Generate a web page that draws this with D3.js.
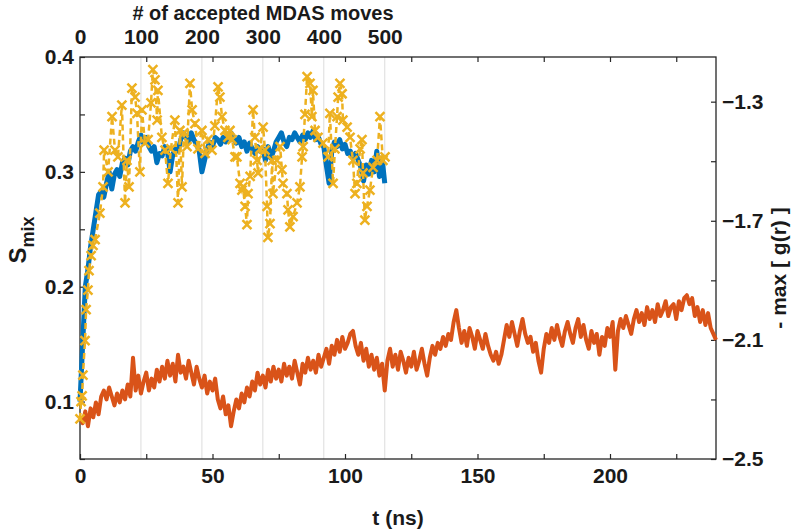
<!DOCTYPE html>
<html><head><meta charset="utf-8">
<script src="https://cdn.jsdelivr.net/npm/d3@7"></script>
<style>body{margin:0;background:#fff}svg{display:block}text{font-family:"Liberation Sans",Arial,sans-serif;font-weight:bold;fill:#1a1a1a}</style>
</head><body><svg id="c" width="793" height="531"></svg>
<script>
// ---- data ----
const tStepNs = 1;
const blueSmix = [0.100,0.150,0.200,0.215,0.235,0.250,0.265,0.280,0.283,0.278,
0.290,0.300,0.285,0.298,0.302,0.296,0.308,0.312,0.306,0.318,
0.322,0.318,0.326,0.332,0.325,0.330,0.322,0.318,0.322,0.308,
0.316,0.314,0.322,0.318,0.300,0.315,0.320,0.318,0.328,0.334,
0.330,0.326,0.334,0.328,0.324,0.318,0.300,0.310,0.320,0.326,
0.322,0.330,0.328,0.324,0.330,0.326,0.332,0.334,0.328,0.325,
0.330,0.322,0.326,0.318,0.325,0.320,0.316,0.322,0.318,0.320,
0.310,0.322,0.312,0.318,0.326,0.330,0.334,0.326,0.322,0.330,
0.328,0.334,0.330,0.326,0.332,0.328,0.334,0.330,0.336,0.328,
0.330,0.324,0.322,0.305,0.290,0.318,0.326,0.322,0.328,0.320,
0.324,0.316,0.318,0.312,0.316,0.310,0.304,0.292,0.306,0.298,
0.310,0.300,0.318,0.296,0.312,0.290];

const yellowT = [0.0,0.4,0.8,1.1,1.9,2.3,3.0,3.4,4.2,4.9,5.7,7.5,8.7,9.1,10.6,12.1,13.2,14.3,15.8,17.0,17.7,18.5,19.6,20.8,21.5,22.6,23.4,24.5,25.7,26.8,27.5,28.3,29.1,29.4,30.9,32.1,33.2,34.3,35.8,37.0,37.7,38.5,39.2,40.4,41.5,42.3,43.4,44.5,46.0,47.2,48.3,49.8,50.9,52.1,52.8,53.6,54.7,55.8,56.6,57.4,58.5,59.2,60.4,61.1,61.5,62.3,63.0,63.4,64.2,65.3,66.0,66.8,67.2,67.9,69.1,69.8,70.6,70.9,71.7,72.5,72.8,74.3,75.5,76.2,76.6,78.1,78.5,79.2,80.4,81.9,83.0,83.8,84.2,84.9,85.7,86.8,87.5,87.9,88.7,89.8,91.7,93.6,94.3,95.5,96.2,97.0,97.4,98.1,98.9,99.2,100.8,101.9,103.0,103.8,104.5,105.7,106.4,106.8,107.5,108.3,109.4,110.6,112.1,113.2,114.3,115.1];
const yellowSmix = [0.085,0.100,0.105,0.123,0.153,0.180,0.197,0.214,0.227,0.236,0.241,0.264,0.287,0.319,0.300,0.348,0.319,0.313,0.358,0.273,0.310,0.287,0.373,0.365,0.351,0.300,0.354,0.325,0.328,0.360,0.389,0.380,0.345,0.371,0.330,0.319,0.290,0.320,0.345,0.273,0.336,0.287,0.334,0.322,0.377,0.354,0.342,0.320,0.336,0.316,0.328,0.319,0.340,0.374,0.365,0.348,0.336,0.330,0.336,0.328,0.313,0.313,0.290,0.284,0.287,0.270,0.254,0.281,0.296,0.354,0.330,0.310,0.299,0.320,0.339,0.319,0.270,0.243,0.255,0.310,0.281,0.310,0.322,0.302,0.290,0.281,0.267,0.252,0.261,0.273,0.287,0.313,0.322,0.350,0.383,0.377,0.348,0.371,0.336,0.330,0.325,0.313,0.351,0.290,0.320,0.348,0.365,0.377,0.368,0.345,0.339,0.330,0.310,0.281,0.290,0.320,0.328,0.299,0.258,0.270,0.284,0.304,0.310,0.348,0.310,0.313];

const orangeGr = [-2.36,-2.38,-2.34,-2.39,-2.33,-2.36,-2.31,-2.35,-2.29,-2.27,
-2.30,-2.26,-2.29,-2.32,-2.28,-2.31,-2.27,-2.30,-2.25,-2.29,
-2.16,-2.27,-2.22,-2.28,-2.24,-2.21,-2.27,-2.23,-2.26,-2.20,
-2.24,-2.19,-2.23,-2.17,-2.22,-2.18,-2.24,-2.15,-2.21,-2.19,
-2.23,-2.17,-2.21,-2.25,-2.19,-2.23,-2.26,-2.22,-2.28,-2.24,
-2.27,-2.23,-2.30,-2.33,-2.29,-2.35,-2.32,-2.39,-2.34,-2.30,
-2.33,-2.28,-2.31,-2.26,-2.29,-2.24,-2.27,-2.21,-2.25,-2.22,
-2.26,-2.20,-2.24,-2.19,-2.23,-2.20,-2.24,-2.18,-2.22,-2.19,
-2.23,-2.17,-2.21,-2.25,-2.18,-2.21,-2.16,-2.20,-2.17,-2.21,
-2.15,-2.19,-2.16,-2.13,-2.18,-2.12,-2.15,-2.10,-2.14,-2.09,
-2.13,-2.11,-2.08,-2.07,-2.12,-2.15,-2.11,-2.17,-2.13,-2.19,
-2.15,-2.20,-2.16,-2.22,-2.18,-2.27,-2.17,-2.13,-2.19,-2.15,
-2.20,-2.14,-2.17,-2.21,-2.16,-2.19,-2.14,-2.20,-2.17,-2.13,
-2.18,-2.22,-2.16,-2.12,-2.15,-2.11,-2.13,-2.09,-2.12,-2.08,
-2.10,-2.04,-2.00,-2.06,-2.11,-2.07,-2.12,-2.06,-2.09,-2.13,
-2.07,-2.10,-2.13,-2.08,-2.12,-2.15,-2.17,-2.14,-2.18,-2.15,
-2.10,-2.05,-2.09,-2.04,-2.08,-2.12,-2.07,-2.03,-2.08,-2.11,
-2.09,-2.14,-2.11,-2.17,-2.21,-2.13,-2.08,-2.11,-2.06,-2.10,
-2.05,-2.09,-2.12,-2.07,-2.04,-2.08,-2.11,-2.06,-2.03,-2.09,
-2.05,-2.10,-2.13,-2.07,-2.11,-2.08,-2.15,-2.09,-2.12,-2.06,
-2.09,-2.04,-2.20,-2.07,-2.03,-2.06,-2.02,-2.05,-2.08,-2.03,
-2.00,-2.04,-2.01,-2.05,-1.99,-2.03,-2.00,-2.04,-1.98,-2.02,
-2.00,-1.97,-2.02,-1.99,-1.98,-2.03,-1.97,-2.00,-1.96,-1.95,
-1.98,-1.96,-2.02,-1.99,-2.04,-2.00,-2.05,-2.01,-2.06,-2.08,
-2.10];

const bottomTicks = [0,25,50,75,100,125,150,175,200,225];
const bottomLabels = [0,50,100,150,200];
const topMoveTicks = [0,100,200,300,400,500];
const leftTicks = [0.05,0.1,0.15,0.2,0.25,0.3,0.35,0.4];
const leftLabels = [0.1,0.2,0.3,0.4];
const rightTicks = [-2.5,-2.3,-2.1,-1.9,-1.7,-1.5,-1.3];
const rightLabels = [-2.5,-2.1,-1.7,-1.3];
const nsPerMove = 0.23;

// ---- layout ----
const L=80,R=716,T=57,B=459;
const svg=d3.select("#c");
const x=d3.scaleLinear().domain([0,240]).range([L,R]);
const xTop=d3.scaleLinear().domain([0,240/nsPerMove]).range([L,R]);
const yL=d3.scaleLinear().domain([0.05,0.4]).range([B,T]);
const yR=d3.scaleLinear().domain([-2.5,-1.15]).range([B,T]);
const ink="#262626";

svg.append("g").selectAll("line").data(topMoveTicks.filter(d=>d>0)).join("line")
 .attr("x1",d=>xTop(d)).attr("x2",d=>xTop(d)).attr("y1",T).attr("y2",B)
 .attr("stroke","#dcdcdc").attr("stroke-width",1);

const fmtL=d=>leftLabels.some(v=>Math.abs(v-d)<1e-9)?d3.format(".1f")(d):"";
const fmtR=d=>rightLabels.some(v=>Math.abs(v-d)<1e-9)?d3.format(".1f")(d):"";
const fmtB=d=>bottomLabels.includes(d)?String(d):"";

function style(g){g.select(".domain").remove();g.selectAll("line").attr("stroke",ink).attr("stroke-width",1.2);g.selectAll("text").style("font-size","21px").attr("fill","#1a1a1a");}

svg.append("g").attr("transform",`translate(0,${B})`)
 .call(d3.axisBottom(x).tickValues(bottomTicks).tickFormat(fmtB).tickSize(-5).tickPadding(9)).call(style);
svg.append("g").attr("transform",`translate(0,${T})`)
 .call(d3.axisTop(x).tickValues(bottomTicks.filter(d=>d>0)).tickFormat("").tickSize(-5)).call(style);
svg.append("g").attr("transform",`translate(0,${T})`)
 .call(d3.axisTop(xTop).tickValues(topMoveTicks).tickSize(0).tickPadding(13)).call(style);
svg.append("g").attr("transform",`translate(${L},0)`)
 .call(d3.axisLeft(yL).tickValues(leftTicks).tickFormat(fmtL).tickSize(-5).tickPadding(6)).call(style);
svg.append("g").attr("transform",`translate(${R},0)`)
 .call(d3.axisRight(yR).tickValues(rightTicks).tickFormat(fmtR).tickSize(-5).tickPadding(6)).call(style);

svg.append("rect").attr("x",L).attr("y",T).attr("width",R-L).attr("height",B-T)
 .attr("fill","none").attr("stroke",ink).attr("stroke-width",1.3);

const blue=blueSmix.map((v,i)=>({t:i*tStepNs,v}));
const orange=orangeGr.map((v,i)=>({t:i*tStepNs,v}));
const yellow=yellowT.map((t,i)=>({t,v:yellowSmix[i]}));

svg.append("path").datum(orange).attr("fill","none").attr("stroke","#D95319").attr("stroke-width",4)
 .attr("stroke-linejoin","round").attr("d",d3.line().x(d=>x(d.t)).y(d=>yR(d.v)));
svg.append("path").datum(blue).attr("fill","none").attr("stroke","#0072BD").attr("stroke-width",5)
 .attr("stroke-linejoin","round").attr("d",d3.line().x(d=>x(d.t)).y(d=>yL(d.v)));
svg.append("path").datum(yellow).attr("fill","none").attr("stroke","#EDB120").attr("stroke-width",2.5)
 .attr("stroke-dasharray","6,4").attr("d",d3.line().x(d=>x(d.t)).y(d=>yL(d.v)));
const s=4.5;
svg.append("g").selectAll("path").data(yellow).join("path")
 .attr("d",d=>{const cx=x(d.t),cy=yL(d.v);return `M${cx-s},${cy-s}L${cx+s},${cy+s}M${cx-s},${cy+s}L${cx+s},${cy-s}`;})
 .attr("stroke","#EDB120").attr("stroke-width",2.5).attr("fill","none");

svg.append("text").attr("x",263).attr("y",20).attr("text-anchor","middle").style("font-size","20px").text("# of accepted MDAS moves");
svg.append("text").attr("x",(L+R)/2).attr("y",525).attr("text-anchor","middle").style("font-size","21px").text("t (ns)");
const sl=svg.append("text").attr("transform","translate(26,240) rotate(-90)").attr("text-anchor","middle").style("font-size","24px");
sl.append("tspan").text("S");
sl.append("tspan").attr("dy",8).style("font-size","18px").text("mix");
svg.append("text").attr("transform","translate(786,268) rotate(-90)").attr("text-anchor","middle").style("font-size","21px").text("- max [ g(r) ]");
</script></body></html>
